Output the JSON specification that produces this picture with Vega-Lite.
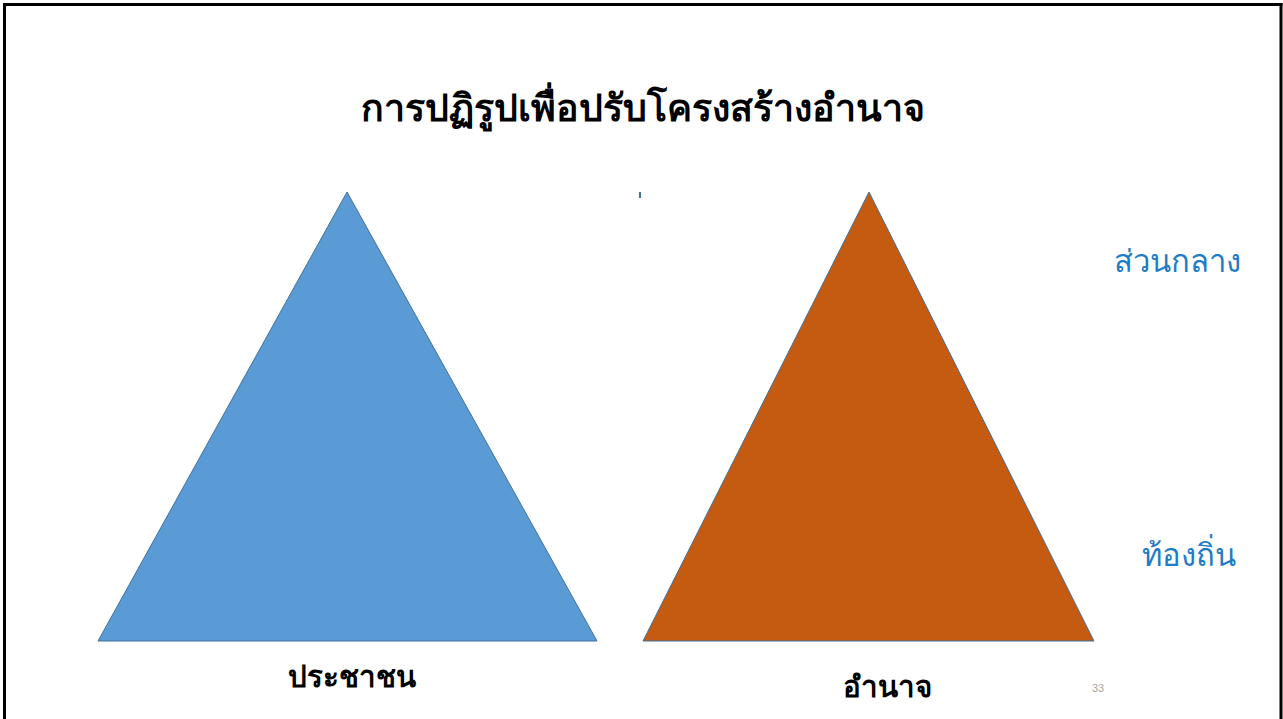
{
  "$schema": "https://vega.github.io/schema/vega-lite/v6.json",
  "autosize": {"type": "none"},
  "width": 1300,
  "height": 800,
  "padding": 0,
  "background": "white",
  "config": {"view": {"stroke": null}},
  "datasets": {
    "tri": [
      {"shape": "blue", "x": 98, "y": 641, "base": 641},
      {"shape": "blue", "x": 347, "y": 192, "base": 641},
      {"shape": "blue", "x": 597, "y": 641, "base": 641},
      {"shape": "orange", "x": 643, "y": 641, "base": 641},
      {"shape": "orange", "x": 869, "y": 192, "base": 641},
      {"shape": "orange", "x": 1094, "y": 641, "base": 641}
    ],
    "labels": [
      {"kind": "title", "text": "การปฏิรูปเพื่อปรับโครงสร้างอำนาจ", "x": 643, "y": 110},
      {"kind": "bottom1", "text": "ประชาชน", "x": 352, "y": 678},
      {"kind": "bottom2", "text": "อำนาจ", "x": 887, "y": 688},
      {"kind": "side", "text": "ส่วนกลาง", "x": 1177, "y": 263},
      {"kind": "side", "text": "ท้องถิ่น", "x": 1189, "y": 557},
      {"kind": "page", "text": "33", "x": 1098, "y": 689}
    ],
    "frame": [
      {"x": 4.5, "x2": 1281, "y": 4.5, "y2": 4.5},
      {"x": 4.5, "x2": 4.5, "y": 4.5, "y2": 719},
      {"x": 1281, "x2": 1281, "y": 4.5, "y2": 719}
    ],
    "tick": [{"x": 640, "y": 192, "y2": 198}]
  },
  "layer": [
    {
      "data": {"name": "frame"},
      "mark": {"type": "rule", "stroke": "black", "strokeWidth": 3, "strokeCap": "square"},
      "encoding": {
        "x": {"field": "x", "type": "quantitative", "scale": {"domain": [0, 1283]}, "axis": null},
        "x2": {"field": "x2"},
        "y": {"field": "y", "type": "quantitative", "scale": {"domain": [0, 719], "reverse": true}, "axis": null},
        "y2": {"field": "y2"}
      }
    },
    {
      "data": {"name": "tri"},
      "transform": [{"filter": "datum.shape === 'blue'"}],
      "mark": {"type": "area", "fill": "#5B9BD5", "stroke": "#41719C", "strokeWidth": 1, "opacity": 1, "fillOpacity": 1},
      "encoding": {
        "x": {"field": "x", "type": "quantitative"},
        "y": {"field": "y", "type": "quantitative", "stack": null},
        "y2": {"field": "base"}
      }
    },
    {
      "data": {"name": "tri"},
      "transform": [{"filter": "datum.shape === 'orange'"}],
      "mark": {"type": "area", "fill": "#C55A11", "stroke": "#41719C", "strokeWidth": 1, "opacity": 1, "fillOpacity": 1},
      "encoding": {
        "x": {"field": "x", "type": "quantitative"},
        "y": {"field": "y", "type": "quantitative", "stack": null},
        "y2": {"field": "base"}
      }
    },
    {
      "data": {"name": "tick"},
      "mark": {"type": "rule", "stroke": "#41719C", "strokeWidth": 2},
      "encoding": {
        "x": {"field": "x", "type": "quantitative"},
        "y": {"field": "y", "type": "quantitative"},
        "y2": {"field": "y2"}
      }
    },
    {
      "data": {"name": "labels"},
      "transform": [{"filter": "datum.kind === 'title'"}],
      "mark": {"type": "text", "font": "Liberation Serif", "fontSize": 37.5, "fontWeight": "bold", "color": "black", "align": "center", "baseline": "middle"},
      "encoding": {
        "x": {"field": "x", "type": "quantitative"},
        "y": {"field": "y", "type": "quantitative"},
        "text": {"field": "text"}
      }
    },
    {
      "data": {"name": "labels"},
      "transform": [{"filter": "datum.kind === 'bottom1'"}],
      "mark": {"type": "text", "font": "Liberation Serif", "fontSize": 29.5, "fontWeight": "bold", "color": "black", "align": "center", "baseline": "middle"},
      "encoding": {
        "x": {"field": "x", "type": "quantitative"},
        "y": {"field": "y", "type": "quantitative"},
        "text": {"field": "text"}
      }
    },
    {
      "data": {"name": "labels"},
      "transform": [{"filter": "datum.kind === 'bottom2'"}],
      "mark": {"type": "text", "font": "Liberation Serif", "fontSize": 29.5, "fontWeight": "bold", "color": "black", "align": "center", "baseline": "middle"},
      "encoding": {
        "x": {"field": "x", "type": "quantitative"},
        "y": {"field": "y", "type": "quantitative"},
        "text": {"field": "text"}
      }
    },
    {
      "data": {"name": "labels"},
      "transform": [{"filter": "datum.kind === 'side'"}],
      "mark": {"type": "text", "font": "Liberation Serif", "fontSize": 31, "color": "#1E7CC8", "align": "center", "baseline": "middle"},
      "encoding": {
        "x": {"field": "x", "type": "quantitative"},
        "y": {"field": "y", "type": "quantitative"},
        "text": {"field": "text"}
      }
    },
    {
      "data": {"name": "labels"},
      "transform": [{"filter": "datum.kind === 'page'"}],
      "mark": {"type": "text", "font": "Liberation Sans", "fontSize": 11, "color": "#A6A6A6", "align": "center", "baseline": "middle"},
      "encoding": {
        "x": {"field": "x", "type": "quantitative"},
        "y": {"field": "y", "type": "quantitative"},
        "text": {"field": "text"}
      }
    }
  ]
}
